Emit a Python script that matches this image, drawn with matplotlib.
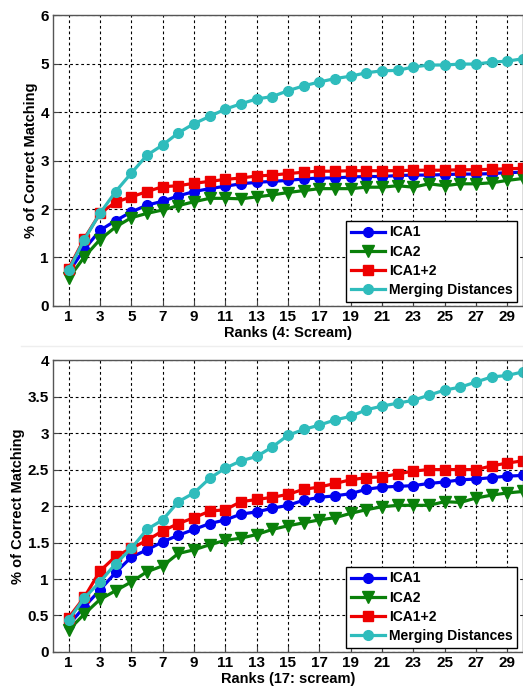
import numpy as np
import matplotlib
matplotlib.use("Agg")
import matplotlib.pyplot as plt
from matplotlib.lines import Line2D

plt.rcParams['font.family'] = ['Liberation Sans', 'DejaVu Sans']
plt.rcParams['font.weight'] = 'bold'

ranks = list(range(1, 31))
tick_ranks = list(range(1, 30, 2))
labels = ["ICA1", "ICA2", "ICA1+2", "Merging Distances"]

# Ranks (4: Scream)
top_ica1 = [0.70, 1.17, 1.56, 1.76, 1.94, 2.08, 2.16, 2.27, 2.36, 2.42, 2.47, 2.52, 2.55, 2.57, 2.59,
            2.62, 2.64, 2.64, 2.66, 2.67, 2.67, 2.69, 2.70, 2.70, 2.71, 2.72, 2.72, 2.73, 2.75, 2.76]
top_ica2 = [0.57, 1.01, 1.37, 1.63, 1.82, 1.91, 1.98, 2.07, 2.15, 2.22, 2.22, 2.21, 2.25, 2.29, 2.34,
            2.38, 2.42, 2.42, 2.42, 2.45, 2.45, 2.48, 2.45, 2.52, 2.48, 2.52, 2.52, 2.54, 2.59, 2.63]
top_ica12 = [0.77, 1.39, 1.91, 2.14, 2.25, 2.36, 2.46, 2.48, 2.53, 2.57, 2.61, 2.64, 2.68, 2.70, 2.73,
             2.76, 2.78, 2.78, 2.79, 2.79, 2.79, 2.79, 2.80, 2.80, 2.80, 2.81, 2.81, 2.82, 2.83, 2.84]
top_merge = [0.74, 1.37, 1.91, 2.36, 2.74, 3.11, 3.32, 3.57, 3.76, 3.91, 4.06, 4.17, 4.27, 4.32, 4.44,
             4.54, 4.62, 4.69, 4.74, 4.81, 4.85, 4.86, 4.93, 4.97, 4.97, 4.99, 4.99, 5.03, 5.05, 5.10]

# Ranks (17: scream)
bot_ica1 = [0.37, 0.62, 0.85, 1.09, 1.30, 1.40, 1.51, 1.60, 1.68, 1.76, 1.81, 1.89, 1.92, 1.97, 2.01,
            2.08, 2.12, 2.14, 2.17, 2.23, 2.26, 2.27, 2.28, 2.31, 2.33, 2.36, 2.37, 2.39, 2.41, 2.42]
bot_ica2 = [0.30, 0.52, 0.72, 0.84, 0.96, 1.10, 1.18, 1.35, 1.40, 1.47, 1.53, 1.56, 1.61, 1.68, 1.73,
            1.77, 1.81, 1.84, 1.90, 1.95, 1.99, 2.01, 2.01, 2.01, 2.06, 2.05, 2.11, 2.15, 2.18, 2.20]
bot_ica12 = [0.47, 0.75, 1.11, 1.31, 1.42, 1.53, 1.66, 1.76, 1.84, 1.93, 1.95, 2.06, 2.09, 2.12, 2.16,
             2.23, 2.26, 2.31, 2.36, 2.39, 2.40, 2.44, 2.48, 2.50, 2.50, 2.50, 2.50, 2.55, 2.59, 2.62]
bot_merge = [0.44, 0.74, 0.96, 1.21, 1.42, 1.68, 1.81, 2.06, 2.18, 2.38, 2.52, 2.62, 2.68, 2.81, 2.97,
             3.05, 3.11, 3.18, 3.23, 3.32, 3.37, 3.41, 3.45, 3.52, 3.59, 3.63, 3.70, 3.77, 3.79, 3.84]

colors = ["#0000f0", "#0a800a", "#ee0000", "#2fbcbc"]
markers = ["o", "v", "s", "o"]
msizes = [7, 8, 7, 7]

fig = plt.figure(figsize=(5.23, 6.86), dpi=100)
ax_top = fig.add_axes([0.1013, 0.554, 0.8987, 0.424])
ax_bot = fig.add_axes([0.1013, 0.0496, 0.8987, 0.4254])

panels = [
    (ax_top, [top_ica1, top_ica2, top_ica12, top_merge], (0, 6), list(range(0, 7)),
     ["0", "1", "2", "3", "4", "5", "6"], "Ranks (4: Scream)"),
    (ax_bot, [bot_ica1, bot_ica2, bot_ica12, bot_merge], (0, 4), list(np.arange(0, 4.01, 0.5)),
     ["0", "0.5", "1", "1.5", "2", "2.5", "3", "3.5", "4"], "Ranks (17: scream)"),
]

for ax, series, ylim, yticks, ylabels, xlabel in panels:
    for vals, c, m, ms, lab in zip(series, colors, markers, msizes, labels):
        ax.plot(ranks, vals, color=c, marker=m, markersize=ms, linewidth=2.3,
                markeredgecolor=c, label=lab)
    ax.set_xlim(0, 30)
    ax.set_ylim(*ylim)
    ax.set_xticks(tick_ranks)
    ax.set_yticks(yticks)
    ax.set_yticklabels(ylabels)
    ax.grid(True, color="black", linestyle=(0, (2.5, 2.5)), linewidth=0.8)
    ax.tick_params(direction="in", length=4, labelsize=11, pad=3, color="#444444")
    for lab in ax.get_xticklabels() + ax.get_yticklabels():
        lab.set_fontweight("bold")
    for sp in ax.spines.values():
        sp.set_color("#555555")
        sp.set_linewidth(1.0)
    ax.set_xlabel(xlabel, fontsize=10.5, fontweight="bold", labelpad=1)
    ax.set_ylabel("% of Correct Matching", fontsize=10.5, fontweight="bold", labelpad=2)
    leg = ax.legend(loc="lower right", bbox_to_anchor=(0.988, 0.013), borderaxespad=0,
                    fancybox=False, framealpha=1, edgecolor="black",
                    handlelength=2.4, handletextpad=0.3, labelspacing=0.38,
                    borderpad=0.35, prop={"weight": "bold", "size": 10})
    leg.get_frame().set_linewidth(1.0)

# faint separator between the two pictures
fig.add_artist(Line2D([0.04, 1.0], [1 - 346 / 686, 1 - 346 / 686], color="#eeeeee", linewidth=1))

fig.savefig("out.png", dpi=100)
